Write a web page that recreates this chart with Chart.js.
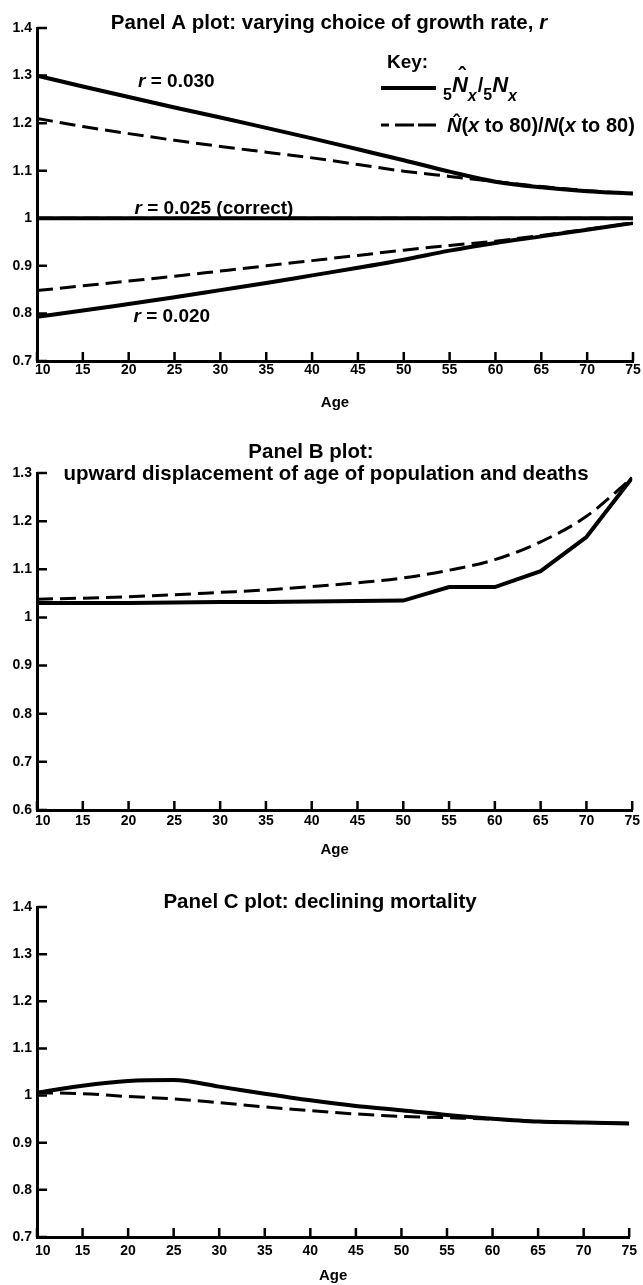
<!DOCTYPE html>
<html>
<head>
<meta charset="utf-8">
<script src="https://cdn.jsdelivr.net/npm/chart.js@4.4.1/dist/chart.umd.min.js"></script>
<style>
body { margin: 0; background: #fff; width: 643px; height: 1285px; position: relative; overflow: hidden; }
canvas { position: absolute; left: 0; }
</style>
</head>
<body>
<canvas id="panel_a" width="643" height="415" style="top:0px"></canvas>
<canvas id="panel_b" width="643" height="448" style="top:415px"></canvas>
<canvas id="panel_c" width="643" height="422" style="top:863px"></canvas>
<script>
// ----------------------------------------------------------------------
//	ratio of estimated to true population, three panels
// ----------------------------------------------------------------------
const ages = [10, 15, 20, 25, 30, 35, 40, 45, 50, 55, 60, 65, 70, 75]
const age_ticks = [10, 15, 20, 25, 30, 35, 40, 45, 50, 55, 60, 65, 70, 75]
const ratio_ticks_a = [0.7, 0.8, 0.9, 1, 1.1, 1.2, 1.3, 1.4]
const ratio_ticks_b = [0.6, 0.7, 0.8, 0.9, 1, 1.1, 1.2, 1.3]
const ratio_ticks_c = [0.7, 0.8, 0.9, 1, 1.1, 1.2, 1.3, 1.4]

// Panel A : solid = 5Nx ratio, dashed = N(x to 80) ratio
const a_r030_five = [1.300, 1.277, 1.255, 1.233, 1.212, 1.190, 1.168, 1.145, 1.122, 1.098, 1.077, 1.065, 1.057, 1.052]
const a_r030_open = [1.210, 1.193, 1.178, 1.164, 1.151, 1.139, 1.127, 1.113, 1.099, 1.088, 1.077, 1.067, 1.058, 1.052]
const a_r025_five = [1, 1, 1, 1, 1, 1, 1, 1, 1, 1, 1, 1, 1, 1]
const a_r025_open = [1, 1, 1, 1, 1, 1, 1, 1, 1, 1, 1, 1, 1, 1]
const a_r020_five = [0.793, 0.806, 0.820, 0.834, 0.849, 0.864, 0.880, 0.896, 0.913, 0.932, 0.948, 0.962, 0.976, 0.990]
const a_r020_open = [0.848, 0.858, 0.868, 0.878, 0.889, 0.900, 0.911, 0.922, 0.933, 0.943, 0.952, 0.964, 0.977, 0.990]

// Panel B
const b_five = [1.030, 1.030, 1.030, 1.031, 1.032, 1.032, 1.033, 1.034, 1.035, 1.063, 1.063, 1.096, 1.167, 1.290]
const b_open = [1.038, 1.040, 1.043, 1.047, 1.052, 1.057, 1.064, 1.072, 1.082, 1.098, 1.120, 1.157, 1.210, 1.290]

// Panel C
const c_five = [1.006, 1.021, 1.031, 1.033, 1.019, 1.004, 0.990, 0.978, 0.969, 0.959, 0.951, 0.945, 0.943, 0.941]
const c_open = [1.006, 1.004, 0.998, 0.993, 0.985, 0.976, 0.968, 0.961, 0.956, 0.953, 0.950, 0.945, 0.943, 0.941]

const family = '"Liberation Sans", Arial, Helvetica, sans-serif'

// ----------------------------------------------------------------------
function series (values, dashed, smooth)
{
	return {
		data: ages.map((a, i) => ({x: a, y: values[i]})),
		borderColor: '#000',
		borderWidth: dashed ? 3 : 4,
		borderDash: dashed ? [16, 7] : [],
		cubicInterpolationMode: smooth ? 'monotone' : 'default',
		tension: 0,
		pointRadius: 0,
		fill: false
		}
}

// ----------------------------------------------------------------------
function run_font (run, size)
{
	return (run.italic ? 'italic ' : '') + 'bold ' + (run.size || size) + 'px ' + family
}

function draw_runs (ctx, runs, x, y, size, align)
{
	let total = 0
	const widths = []
	for (const run of runs)
		{
		ctx.font = run_font(run, size)
		const w = ctx.measureText(run.t).width + (run.gap || 0)
		widths.push(w)
		total += w
		}
	let cx = (align === 'center') ? x - total / 2 : x
	ctx.textBaseline = 'middle'
	runs.forEach((run, i) =>
		{
		ctx.font = run_font(run, size)
		ctx.textAlign = 'left'
		ctx.fillText(run.t, cx, y + (run.dy || 0))
		if (run.hat !== undefined)
			{
			const s = run.size || size
			ctx.font = 'bold ' + s + 'px ' + family
			ctx.textAlign = 'center'
			ctx.fillText('\u02c6', cx + widths[i] / 2 + 2, y + run.hat)
			}
		cx += widths[i]
		})
}

// ----------------------------------------------------------------------
function make_marks (items, key)
{
	return {
		id: 'marks',
		afterDraw (chart)
			{
			const ctx = chart.ctx
			const xs = chart.scales.x
			const ys = chart.scales.y
			const area = chart.chartArea
			ctx.save()
			ctx.strokeStyle = '#000'
			ctx.fillStyle = '#000'
			ctx.lineWidth = 2.5
			ctx.beginPath()
			for (const t of xs.ticks)
				{
				const px = xs.getPixelForValue(t.value)
				ctx.moveTo(px, area.bottom)
				ctx.lineTo(px, area.bottom - 9)
				}
			for (const t of ys.ticks)
				{
				const py = ys.getPixelForValue(t.value)
				ctx.moveTo(area.left, py)
				ctx.lineTo(area.left + 10, py)
				}
			ctx.stroke()

			for (const item of items)
				{
				const x = (item.age !== undefined) ? xs.getPixelForValue(item.age) : item.x
				const y = (item.value !== undefined) ? ys.getPixelForValue(item.value) : item.y
				draw_runs(ctx, item.runs, x, y, item.size, item.align || 'center')
				}

			if (key)
				{
				draw_runs(ctx, [{t: 'Key:'}], key.x + 6, key.y, 19, 'left')
				ctx.lineWidth = 4
				ctx.setLineDash([])
				ctx.beginPath()
				ctx.moveTo(key.x, key.y + 25)
				ctx.lineTo(key.x + 55, key.y + 25)
				ctx.stroke()
				ctx.lineWidth = 3
				ctx.setLineDash([8, 6, 19, 4, 19])
				ctx.beginPath()
				ctx.moveTo(key.x, key.y + 62)
				ctx.lineTo(key.x + 55, key.y + 62)
				ctx.stroke()
				ctx.setLineDash([])
				draw_runs(ctx, [
					{t: '5', size: 16, dy: 10},
					{t: 'N', italic: true, size: 22, hat: -9},
					{t: 'x', italic: true, size: 16, dy: 11, gap: 1},
					{t: '/', size: 20},
					{t: '5', size: 16, dy: 10},
					{t: 'N', italic: true, size: 22},
					{t: 'x', italic: true, size: 16, dy: 11}
					], key.x + 62, key.y + 23, 20, 'left')
				draw_runs(ctx, [
					{t: 'N', italic: true, hat: -3},
					{t: '('},
					{t: 'x', italic: true},
					{t: ' to 80)/'},
					{t: 'N', italic: true},
					{t: '('},
					{t: 'x', italic: true},
					{t: ' to 80)'}
					], key.x + 66, key.y + 63, 20, 'left')
				}
			ctx.restore()
			}
		}
}

// ----------------------------------------------------------------------
function make_panel (id, datasets, y_ticks, pad_top, x_height, label_pad, title_pad, items, key)
{
	const config = {
		type: 'line',
		data: {datasets: datasets},
		options: {
			responsive: false,
			animation: false,
			layout: {padding: {top: pad_top, right: 10, left: 0, bottom: 0}},
			plugins: {legend: {display: false}, tooltip: {enabled: false}},
			scales: {
				x: {
					type: 'linear',
					min: age_ticks[0],
					max: age_ticks[age_ticks.length - 1],
					grid: {display: false, drawTicks: false},
					border: {display: true, width: 3, color: '#000'},
					afterBuildTicks: s => { s.ticks = age_ticks.map(v => ({value: v})) },
					afterFit: s => { s.height = x_height },
					ticks: {color: '#000', padding: label_pad, autoSkip: false, maxRotation: 0,
						callback: (v, i) => (i === 0 ? '   ' : '') + String(v),
						font: {family: family, weight: 'bold', size: 14}},
					title: {display: true, text: 'Age', color: '#000',
						font: {family: family, weight: 'bold', size: 15},
						padding: {top: 0, bottom: title_pad}}
					},
				y: {
					type: 'linear',
					min: y_ticks[0],
					max: y_ticks[y_ticks.length - 1],
					grid: {display: false, drawTicks: false},
					border: {display: true, width: 3, color: '#000'},
					afterBuildTicks: s => { s.ticks = y_ticks.map(v => ({value: v})) },
					afterFit: s => { s.width = 37 },
					ticks: {color: '#000', padding: 5, autoSkip: false,
						callback: v => String(+Number(v).toFixed(1)),
						font: {family: family, weight: 'bold', size: 14}}
					}
				}
			},
		plugins: [make_marks(items, key)]
		}
	return new Chart(document.getElementById(id), config)
}

// ----------------------------------------------------------------------
make_panel('panel_a', [
	series(a_r030_five, false, true),
	series(a_r030_open, true, true),
	series(a_r025_five, false, true),
	series(a_r025_open, true, true),
	series(a_r020_five, false, true),
	series(a_r020_open, true, true)
	], ratio_ticks_a, 28, 54, 1, 3, [
	{x: 329, y: 23, size: 20.5, runs: [{t: 'Panel A plot: varying choice of growth rate, '}, {t: 'r', italic: true}]},
	{age: 25.2, value: 1.286, size: 19, runs: [{t: 'r', italic: true}, {t: ' = 0.030'}]},
	{age: 29.3, value: 1.020, size: 19, runs: [{t: 'r', italic: true}, {t: ' = 0.025 (correct)'}]},
	{age: 24.7, value: 0.793, size: 19, runs: [{t: 'r', italic: true}, {t: ' = 0.020'}]}
	], {x: 381, y: 63})

make_panel('panel_b', [
	series(b_five, false, false),
	series(b_open, true, true)
	], ratio_ticks_b, 58, 53, 3, 4, [
	{x: 311, y: 37, size: 20.5, runs: [{t: 'Panel B plot:'}]},
	{x: 326, y: 59, size: 20.5, runs: [{t: 'upward displacement of age of population and deaths'}]}
	], null)

make_panel('panel_c', [
	series(c_five, false, true),
	series(c_open, true, true)
	], ratio_ticks_c, 44, 48, 6, 0, [
	{x: 320, y: 39, size: 20.5, runs: [{t: 'Panel C plot: declining mortality'}]}
	], null)

// ----------------------------------------------------------------------
</script>
</body>
</html>
